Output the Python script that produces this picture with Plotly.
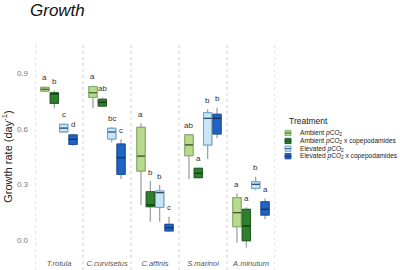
import plotly.graph_objects as go

species = ["T.rotula", "C.curvisetus", "C.affinis", "S.marinoi", "A.minutum"]
treatments = ["Ambient <i>p</i>CO<sub>2</sub>",
              "Ambient <i>p</i>CO<sub>2</sub> x copepodamides",
              "Elevated <i>p</i>CO<sub>2</sub>",
              "Elevated <i>p</i>CO<sub>2</sub> x copepodamides"]

# box statistics per treatment (order of species)
lo = [
    [0.800, 0.712, 0.189, 0.328, -0.015],
    [0.712, 0.720, 0.099, 0.335, -0.040],
    [0.580, 0.528, 0.099, 0.438, 0.270],
    [0.510, 0.330, 0.045, 0.550, 0.112],
]
q1 = [
    [0.805, 0.771, 0.373, 0.456, 0.072],
    [0.739, 0.724, 0.180, 0.337, -0.004],
    [0.585, 0.546, 0.177, 0.514, 0.279],
    [0.517, 0.355, 0.049, 0.573, 0.135],
]
med = [
    [0.815, 0.796, 0.454, 0.514, 0.148],
    [0.790, 0.744, 0.190, 0.360, 0.076],
    [0.605, 0.584, 0.256, 0.658, 0.301],
    [0.544, 0.445, 0.067, 0.658, 0.166],
]
q3 = [
    [0.825, 0.829, 0.609, 0.568, 0.229],
    [0.796, 0.761, 0.261, 0.388, 0.166],
    [0.625, 0.604, 0.265, 0.688, 0.315],
    [0.568, 0.519, 0.085, 0.680, 0.207],
]
hi = [
    [0.830, 0.835, 0.631, 0.573, 0.252],
    [0.810, 0.770, 0.319, 0.390, 0.177],
    [0.630, 0.610, 0.297, 0.707, 0.342],
    [0.575, 0.545, 0.126, 0.715, 0.225],
]
letters = [
    ["a", "a", "a", "ab", "a"],
    ["b", "ab", "b", "a", "a"],
    ["c", "bc", "b", "b", "b"],
    ["d", "c", "c", "b", "a"],
]
yticks = [0.0, 0.3, 0.6, 0.9]

fills = ["#b8da8c", "#2f7f2f", "#c8e5f7", "#1f63c4"]
borders = ["#86b164", "#1d5a1d", "#6aa6d3", "#174c9c"]
medcols = ["#3d5a2a", "#173d17", "#2f4f6a", "#14305e"]
whisk = "#9a9a9a"

BOXGAP = 0.22
fig = go.Figure()
for k in range(4):
    common = dict(x=species, offsetgroup=str(k), alignmentgroup="a",
                  boxpoints=False, showlegend=False, hoverinfo="skip")
    # whiskers (gray)
    fig.add_trace(go.Box(q1=q1[k], median=med[k], q3=q3[k],
                         lowerfence=lo[k], upperfence=hi[k],
                         fillcolor="rgba(0,0,0,0)", line=dict(color=whisk, width=1.2),
                         whiskerwidth=0, **common))
    # coloured box
    fig.add_trace(go.Box(q1=q1[k], median=med[k], q3=q3[k],
                         lowerfence=q1[k], upperfence=q3[k],
                         fillcolor=fills[k], line=dict(color=borders[k], width=1),
                         whiskerwidth=0, **common))
    # median line
    fig.add_trace(go.Box(q1=med[k], median=med[k], q3=med[k],
                         lowerfence=med[k], upperfence=med[k],
                         fillcolor="rgba(0,0,0,0)", line=dict(color=medcols[k], width=1.2),
                         whiskerwidth=0, **common))

slot = (1 - BOXGAP) / 4
for k in range(4):
    for i, sp in enumerate(species):
        fig.add_annotation(x=i + (k - 1.5) * slot, y=hi[k][i], xref="x", yref="y",
                           text=letters[k][i], showarrow=False, yanchor="middle", yshift=9,
                           font=dict(size=8, color="#333333"))

# dashed panel separators
for b in range(len(species) + 1):
    fig.add_shape(type="line", xref="x", yref="paper", x0=b - 0.5, x1=b - 0.5, y0=0, y1=1,
                  line=dict(color="#cfcfcf", width=1, dash="dot"))

# custom legend
PX0, PW, PY1, PH = 35, 240, 270, 227
def px(xp):
    return (xp - PX0) / PW
def py(yp):
    return (PY1 - yp) / PH

fig.add_annotation(xref="paper", yref="paper", x=px(287), y=py(120.5), text="Treatment",
                   showarrow=False, xanchor="left", yanchor="middle",
                   font=dict(size=8.5, color="#222222"))
rows = [133, 141, 148.7, 156.2]
for k in range(4):
    yc = rows[k]
    fig.add_shape(type="rect", xref="paper", yref="paper",
                  x0=px(285), x1=px(291), y0=py(yc + 2.6), y1=py(yc - 2.6),
                  fillcolor=fills[k], line=dict(color=borders[k], width=1))
    fig.add_shape(type="line", xref="paper", yref="paper",
                  x0=px(285), x1=px(291), y0=py(yc), y1=py(yc),
                  line=dict(color=medcols[k], width=1))
    fig.add_annotation(xref="paper", yref="paper", x=px(298), y=py(yc), text=treatments[k],
                       showarrow=False, xanchor="left", yanchor="middle",
                       font=dict(size=6.6, color="#222222"))

fig.update_layout(
    width=400, height=270,
    margin=dict(l=35, r=125, t=43, b=0),
    paper_bgcolor="white", plot_bgcolor="white",
    font=dict(family="Arial, Liberation Sans, sans-serif"),
    boxmode="group", boxgap=BOXGAP, boxgroupgap=0.12,
    title=dict(text="<i>Growth</i>", xref="container", x=30 / 400, xanchor="left",
               y=1 - 10 / 270, yanchor="middle", font=dict(size=17, color="#111111")),
    showlegend=False,
)
fig.update_xaxes(type="category", range=[-0.5, 4.5], showgrid=False, zeroline=False,
                 showline=False, ticks="", tickvals=species, automargin=False,
                 ticktext=["<i>%s</i>" % s for s in species],
                 ticklabelposition="inside", tickfont=dict(size=7.5, color="#555555"))
fig.update_yaxes(range=[-0.162, 1.065], showgrid=False, zeroline=False, showline=False,
                 tickvals=yticks, ticktext=["%.1f" % v for v in yticks], ticks="",
                 ticklabelstandoff=6, automargin=False,
                 tickfont=dict(size=8, color="#7a7a7a"),
                 title=dict(text="Growth rate (day<sup>-1</sup>)", standoff=4,
                            font=dict(size=11, color="#222222")))

fig.write_html("out.html", config={"displayModeBar": False},
               post_script="document.body.style.margin='0';")
